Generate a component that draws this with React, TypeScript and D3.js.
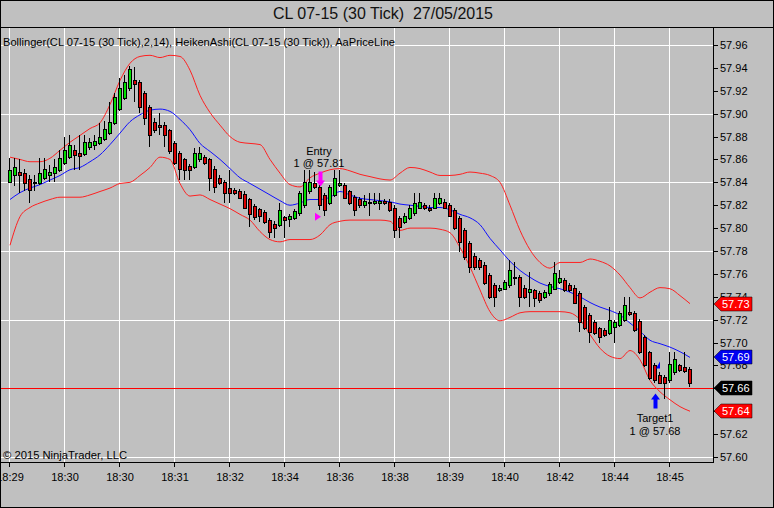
import React from 'react';
import * as d3 from 'd3';

const W = 774;
const H = 508;

// Heiken Ashi bars (30 tick)
const haOpen = [
  57.840, 57.846, 57.849, 57.848, 57.843, 57.839, 57.839, 57.844, 57.846, 57.848,
  57.851, 57.857, 57.862, 57.868, 57.866, 57.865, 57.871, 57.873, 57.874, 57.878,
  57.883, 57.892, 57.904, 57.914, 57.922, 57.929, 57.928, 57.918, 57.906, 57.893,
  57.890, 57.890, 57.886, 57.874, 57.866, 57.860, 57.854, 57.853, 57.860, 57.862,
  57.860, 57.852, 57.844, 57.840, 57.835, 57.833, 57.832, 57.830, 57.825, 57.819,
  57.817, 57.814, 57.807, 57.804, 57.803, 57.810, 57.808, 57.809, 57.813, 57.820,
  57.832, 57.839, 57.836, 57.829, 57.822, 57.829, 57.838, 57.838, 57.832, 57.827,
  57.825, 57.820, 57.822, 57.822, 57.822, 57.824, 57.823, 57.818, 57.809, 57.805,
  57.809, 57.813, 57.818, 57.820, 57.818, 57.818, 57.822, 57.823, 57.820, 57.816,
  57.809, 57.798, 57.787, 57.776, 57.772, 57.768, 57.759, 57.750, 57.746, 57.747,
  57.750, 57.757, 57.757, 57.748, 57.744, 57.746, 57.743, 57.740, 57.743, 57.747,
  57.753, 57.755, 57.750, 57.748, 57.743, 57.731, 57.724, 57.718, 57.713, 57.711,
  57.708, 57.714, 57.715, 57.720, 57.727, 57.726, 57.719, 57.705, 57.692, 57.680,
  57.672, 57.670, 57.667, 57.674, 57.680, 57.679, 57.677
];
const haHigh = [
  57.861, 57.861, 57.860, 57.852, 57.846, 57.846, 57.861, 57.861, 57.855, 57.860,
  57.868, 57.880, 57.881, 57.873, 57.881, 57.881, 57.879, 57.881, 57.892, 57.894,
  57.910, 57.918, 57.931, 57.934, 57.942, 57.941, 57.929, 57.920, 57.908, 57.896,
  57.901, 57.893, 57.887, 57.876, 57.867, 57.861, 57.856, 57.870, 57.871, 57.864,
  57.861, 57.854, 57.846, 57.842, 57.851, 57.835, 57.834, 57.832, 57.826, 57.821,
  57.818, 57.816, 57.809, 57.806, 57.822, 57.811, 57.812, 57.817, 57.832, 57.851,
  57.851, 57.849, 57.838, 57.831, 57.838, 57.851, 57.851, 57.839, 57.833, 57.829,
  57.827, 57.829, 57.831, 57.831, 57.831, 57.825, 57.825, 57.820, 57.811, 57.813,
  57.820, 57.831, 57.831, 57.822, 57.820, 57.831, 57.831, 57.825, 57.822, 57.818,
  57.811, 57.800, 57.789, 57.778, 57.774, 57.770, 57.761, 57.752, 57.750, 57.755,
  57.772, 57.770, 57.759, 57.750, 57.762, 57.747, 57.745, 57.746, 57.753, 57.770,
  57.763, 57.756, 57.752, 57.750, 57.745, 57.733, 57.726, 57.720, 57.714, 57.713,
  57.731, 57.720, 57.728, 57.740, 57.740, 57.728, 57.721, 57.707, 57.693, 57.682,
  57.674, 57.672, 57.692, 57.692, 57.681, 57.692, 57.679
];
const haLow = [
  57.839, 57.837, 57.831, 57.832, 57.822, 57.832, 57.838, 57.842, 57.840, 57.840,
  57.849, 57.855, 57.860, 57.851, 57.851, 57.863, 57.868, 57.868, 57.873, 57.876,
  57.881, 57.890, 57.902, 57.912, 57.920, 57.910, 57.901, 57.890, 57.871, 57.883,
  57.881, 57.871, 57.865, 57.855, 57.842, 57.842, 57.842, 57.852, 57.858, 57.855,
  57.832, 57.831, 57.838, 57.822, 57.822, 57.829, 57.825, 57.817, 57.801, 57.807,
  57.805, 57.804, 57.791, 57.791, 57.801, 57.791, 57.801, 57.807, 57.811, 57.818,
  57.830, 57.834, 57.816, 57.811, 57.820, 57.827, 57.836, 57.825, 57.820, 57.811,
  57.818, 57.818, 57.811, 57.820, 57.816, 57.820, 57.814, 57.791, 57.791, 57.804,
  57.807, 57.811, 57.817, 57.816, 57.814, 57.817, 57.820, 57.817, 57.810, 57.798,
  57.779, 57.772, 57.761, 57.763, 57.763, 57.750, 57.738, 57.731, 57.744, 57.746,
  57.748, 57.750, 57.731, 57.738, 57.731, 57.731, 57.735, 57.738, 57.741, 57.746,
  57.751, 57.744, 57.744, 57.734, 57.709, 57.711, 57.700, 57.707, 57.700, 57.705,
  57.707, 57.700, 57.714, 57.718, 57.723, 57.709, 57.690, 57.679, 57.667, 57.665,
  57.664, 57.651, 57.665, 57.672, 57.674, 57.673, 57.661
];
const haClose = [
  57.851, 57.853, 57.846, 57.839, 57.833, 57.840, 57.848, 57.852, 57.849, 57.853,
  57.861, 57.868, 57.873, 57.864, 57.863, 57.875, 57.875, 57.876, 57.880, 57.887,
  57.893, 57.915, 57.922, 57.928, 57.939, 57.926, 57.906, 57.896, 57.881, 57.886,
  57.888, 57.881, 57.867, 57.857, 57.852, 57.851, 57.851, 57.866, 57.866, 57.857,
  57.844, 57.836, 57.839, 57.831, 57.831, 57.831, 57.826, 57.818, 57.812, 57.810,
  57.811, 57.805, 57.797, 57.800, 57.816, 57.807, 57.811, 57.815, 57.831, 57.840,
  57.840, 57.836, 57.820, 57.816, 57.836, 57.844, 57.839, 57.826, 57.822, 57.816,
  57.820, 57.824, 57.823, 57.824, 57.824, 57.822, 57.816, 57.798, 57.801, 57.811,
  57.818, 57.822, 57.823, 57.818, 57.816, 57.826, 57.826, 57.818, 57.811, 57.800,
  57.788, 57.775, 57.766, 57.766, 57.766, 57.752, 57.740, 57.740, 57.748, 57.753,
  57.763, 57.756, 57.740, 57.740, 57.747, 57.739, 57.737, 57.744, 57.751, 57.761,
  57.756, 57.746, 57.746, 57.735, 57.718, 57.713, 57.709, 57.708, 57.705, 57.707,
  57.720, 57.718, 57.726, 57.733, 57.725, 57.711, 57.692, 57.680, 57.669, 57.667,
  57.665, 57.665, 57.681, 57.686, 57.676, 57.675, 57.665
];

// Bollinger(2,14) read every second bar
const bandBars = d3.range(0, 137, 2);
const bandUpper = [
  57.862, 57.860, 57.858, 57.858, 57.861, 57.868, 57.875, 57.881, 57.887, 57.892,
  57.908, 57.929, 57.944, 57.950, 57.951, 57.949, 57.951, 57.950, 57.938, 57.916,
  57.901, 57.890, 57.880, 57.875, 57.874, 57.873, 57.860, 57.848, 57.838, 57.836,
  57.844, 57.848, 57.851, 57.852, 57.850, 57.847, 57.845, 57.843, 57.842, 57.848,
  57.853, 57.852, 57.849, 57.846, 57.846, 57.847, 57.849, 57.848, 57.846, 57.840,
  57.820, 57.798, 57.781, 57.770, 57.765, 57.770, 57.770, 57.770, 57.773, 57.771,
  57.767, 57.759, 57.748, 57.739, 57.744, 57.748, 57.747, 57.741, 57.734
];
const bandMid = [
  57.825, 57.831, 57.835, 57.838, 57.842, 57.846, 57.851, 57.853, 57.858, 57.864,
  57.873, 57.883, 57.893, 57.899, 57.903, 57.904, 57.902, 57.895, 57.886, 57.874,
  57.867, 57.860, 57.852, 57.844, 57.839, 57.834, 57.829, 57.824, 57.820, 57.822,
  57.825, 57.825, 57.827, 57.832, 57.829, 57.826, 57.825, 57.824, 57.823, 57.821,
  57.820, 57.819, 57.818, 57.818, 57.816, 57.812, 57.809, 57.803, 57.791, 57.781,
  57.771, 57.763, 57.757, 57.752, 57.749, 57.747, 57.744, 57.740, 57.735, 57.731,
  57.728, 57.724, 57.717, 57.710, 57.702, 57.699, 57.696, 57.692, 57.687
];
const bandLower = [
  57.785, 57.810, 57.818, 57.822, 57.825, 57.827, 57.827, 57.827, 57.829, 57.832,
  57.835, 57.839, 57.840, 57.846, 57.853, 57.862, 57.860, 57.839, 57.828, 57.829,
  57.825, 57.821, 57.817, 57.812, 57.807, 57.797, 57.790, 57.788, 57.790, 57.790,
  57.790, 57.794, 57.803, 57.806, 57.807, 57.807, 57.807, 57.807, 57.806, 57.798,
  57.800, 57.800, 57.800, 57.799, 57.796, 57.783, 57.766, 57.746, 57.727, 57.719,
  57.722, 57.726, 57.727, 57.727, 57.727, 57.727, 57.726, 57.720, 57.707, 57.695,
  57.688, 57.686, 57.693, 57.685, 57.667, 57.657, 57.650, 57.644, 57.640
];

const timeTickBars = [0, 11, 22, 33, 44, 55, 66, 77, 88, 99, 110, 121, 132];
const timeTickLabels = ['18:29', '18:30', '18:30', '18:31', '18:32', '18:34', '18:36', '18:38', '18:39', '18:40', '18:42', '18:44', '18:45'];
const priceTicks = [57.60, 57.62, 57.64, 57.66, 57.68, 57.70, 57.72, 57.74, 57.76, 57.78, 57.80, 57.82, 57.84, 57.86, 57.88, 57.90, 57.92, 57.94, 57.96];
const gridPrices = [57.60, 57.66, 57.72, 57.78, 57.84, 57.90, 57.96];

const lastPrice = 57.66;
const entryBar = 62;
const entryPrice = 57.81;
const targetBar = 129;
const targetPrice = 57.68;

const FONT = "'Liberation Sans', Arial, sans-serif";
const BG = '#c0c0c0';
const UP = '#00e000';
const DOWN = '#d80000';

const plot = { left: 0, top: 27, right: 713, bottom: 462 };

export default function App() {
  const x = d3.scaleLinear().domain([0, 136]).range([10, 690]);
  const y = d3.scaleLinear().domain([57.6, 57.96]).range([457, 45]);

  const bandLine = (vals: number[]) =>
    d3.line<number>()
      .x((_, i) => x(bandBars[i]))
      .y(v => y(v))
      .curve(d3.curveMonotoneX)(vals) || '';

  const crisp = (v: number) => Math.round(v) + 0.5;

  const markers = [
    { v: bandUpper[bandUpper.length - 1], fill: '#ff0000' },
    { v: bandMid[bandMid.length - 1], fill: '#0000f0' },
    { v: lastPrice, fill: '#000000' },
    { v: bandLower[bandLower.length - 1], fill: '#ff0000' },
  ];

  const ex = Math.round(x(entryBar));
  const eTip = y(haHigh[entryBar]) + 2;
  const tx = Math.round(x(targetBar));
  const tTip = y(haLow[targetBar]) + 11;

  return (
    <svg width={W} height={H} style={{ position: 'fixed', left: 0, top: 0, background: BG }} fontFamily={FONT}>
      <rect x={0} y={0} width={W} height={H} fill={BG} />

      {/* title */}
      <text x={383} y={19} textAnchor="middle" fontSize={16} fill="#111" style={{ whiteSpace: 'pre' }}>
        {'CL 07-15 (30 Tick)  27/05/2015'}
      </text>

      {/* grid */}
      {gridPrices.map(p => (
        <line key={'h' + p} x1={plot.left} x2={plot.right} y1={crisp(y(p))} y2={crisp(y(p))} stroke="#ffffff" strokeWidth={1} />
      ))}
      {timeTickBars.map(b => (
        <line key={'v' + b} x1={crisp(x(b)) - 1} x2={crisp(x(b)) - 1} y1={plot.top} y2={plot.bottom} stroke="#ffffff" strokeWidth={1} />
      ))}

      {/* price line */}
      <line x1={plot.left} x2={plot.right} y1={crisp(y(lastPrice))} y2={crisp(y(lastPrice))} stroke="#ff0000" strokeWidth={1} />

      {/* bollinger */}
      <path d={bandLine(bandUpper)} fill="none" stroke="#ff2020" strokeWidth={1} />
      <path d={bandLine(bandLower)} fill="none" stroke="#ff2020" strokeWidth={1} />
      <path d={bandLine(bandMid)} fill="none" stroke="#1010ff" strokeWidth={1} />

      {/* heiken ashi candles */}
      {haOpen.map((o, i) => {
        const c = haClose[i];
        const cx = Math.round(x(i));
        const top = Math.round(y(Math.max(o, c)));
        const bot = Math.max(top + 1, Math.round(y(Math.min(o, c))));
        return (
          <g key={i}>
            <line x1={cx - 0.5} x2={cx - 0.5} y1={Math.round(y(haHigh[i]))} y2={Math.round(y(haLow[i]))} stroke="#000" strokeWidth={1} />
            <rect x={cx - 1.5} y={top + 0.5} width={3} height={bot - top} fill={c >= o ? UP : DOWN} stroke="#000" strokeWidth={1} />
          </g>
        );
      })}

      {/* entry */}
      <path
        d={`M${ex - 1.5},${eTip - 15} h4 v9 h2.5 l-4.5,6 l-4.5,-6 h2.5 z`}
        fill="#ff00ff"
      />
      <path d={`M${ex - 5},${y(entryPrice) - 4} l6,4 l-6,4 z`} fill="#ff00ff" />
      <text x={ex - 1} y={eTip - 32} textAnchor="middle" fontSize={11} fill="#000">Entry</text>
      <text x={ex - 1} y={eTip - 20} textAnchor="middle" fontSize={11} fill="#000">{`1 @ ${entryPrice.toFixed(2)}`}</text>

      {/* target */}
      <path
        d={`M${tx + 0.5},${tTip} l4.5,6 h-2.5 v9 h-4 v-9 h-2.5 z`}
        fill="#0000ff"
      />
      <path d={`M${tx + 1},${y(targetPrice) + 3} l4,-7 v7 z`} fill="#0000ff" />
      <text x={tx} y={tTip + 28} textAnchor="middle" fontSize={11} fill="#000">Target1</text>
      <text x={tx} y={tTip + 41} textAnchor="middle" fontSize={11} fill="#000">{`1 @ ${targetPrice.toFixed(2)}`}</text>

      {/* frame */}
      <line x1={0} x2={W} y1={plot.top + 0.5} y2={plot.top + 0.5} stroke="#000" />
      <line x1={plot.left} x2={plot.right} y1={plot.bottom + 0.5} y2={plot.bottom + 0.5} stroke="#000" />
      <line x1={plot.right + 0.5} x2={plot.right + 0.5} y1={plot.top} y2={plot.bottom + 1} stroke="#000" />
      <rect x={0.5} y={0.5} width={W - 1} height={H - 1} fill="none" stroke="#000" />

      {/* legend + copyright */}
      <text x={3} y={46} fontSize={11} fill="#000" textLength={392} lengthAdjust="spacingAndGlyphs">
        Bollinger(CL 07-15 (30 Tick),2,14), HeikenAshi(CL 07-15 (30 Tick)), AaPriceLine
      </text>
      <text x={3} y={459} fontSize={11} fill="#000" textLength={124} lengthAdjust="spacingAndGlyphs">
        © 2015 NinjaTrader, LLC
      </text>

      {/* price axis */}
      {priceTicks.map(p => (
        <g key={'p' + p}>
          <line x1={plot.right} x2={plot.right + 5} y1={crisp(y(p))} y2={crisp(y(p))} stroke="#000" />
          <text x={plot.right + 7} y={y(p) + 4} fontSize={11} fill="#000">{p.toFixed(2)}</text>
        </g>
      ))}
      {markers.map((m, i) => {
        const my = Math.round(y(m.v));
        return (
          <g key={'m' + i}>
            <path d={`M${plot.right + 1},${my} L${plot.right + 8},${my - 7} H752 V${my + 7} H${plot.right + 8} Z`} fill={m.fill} stroke="#000" strokeWidth={0.5} />
            <text x={plot.right + 9} y={my + 4} fontSize={11} fill="#ffffff">{m.v.toFixed(2)}</text>
          </g>
        );
      })}

      {/* time axis */}
      {timeTickBars.map((b, i) => (
        <g key={'t' + b}>
          <line x1={crisp(x(b)) - 1} x2={crisp(x(b)) - 1} y1={plot.bottom} y2={plot.bottom + 5} stroke="#000" />
          <text x={x(b)} y={481} textAnchor="middle" fontSize={11} fill="#000">{timeTickLabels[i]}</text>
        </g>
      ))}
    </svg>
  );
}
